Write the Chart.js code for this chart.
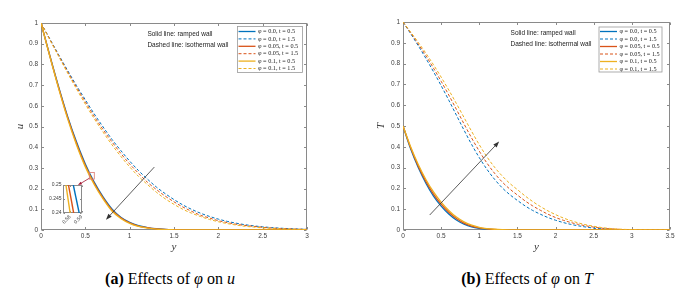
<!DOCTYPE html>
<html>
<head>
<meta charset="utf-8">
<script src="https://cdn.jsdelivr.net/npm/chart.js@4.4.0/dist/chart.umd.min.js"></script>
<style>
  html, body { margin: 0; padding: 0; background: #fff; }
  body { width: 696px; height: 295px; position: relative; overflow: hidden; }
  canvas { position: absolute; }
  .caption { position: absolute; top: 270px; font-family: 'Liberation Serif', 'Times New Roman', serif; font-size: 16px; color: #000; white-space: nowrap; transform: translateX(-50%); }
</style>
</head>
<body>
<canvas id="chartU" width="348" height="260" style="left:0;top:0"></canvas>
<canvas id="chartT" width="346" height="260" style="left:350px;top:0"></canvas>
<canvas id="inset" width="47" height="50" style="left:40px;top:178px"></canvas>
<div class="caption" style="left:170px"><b>(a)</b> Effects of <i>φ</i> on <i>u</i></div>
<div class="caption" style="left:527px"><b>(b)</b> Effects of <i>φ</i> on <i>T</i></div>
<script>
// distance y (x axis of both panels)
const yLeft = [0, 0.1, 0.2, 0.3, 0.4, 0.5, 0.6, 0.7, 0.8, 0.9, 1, 1.1, 1.2, 1.3, 1.4, 1.5, 1.6, 1.7, 1.8, 1.9, 2, 2.1, 2.2, 2.3, 2.4, 2.5, 2.6, 2.7, 2.8, 2.9, 3];
const yRight = [0, 0.1, 0.2, 0.3, 0.4, 0.5, 0.6, 0.7, 0.8, 0.9, 1, 1.1, 1.2, 1.3, 1.4, 1.5, 1.6, 1.7, 1.8, 1.9, 2, 2.1, 2.2, 2.3, 2.4, 2.5, 2.6, 2.7, 2.8, 2.9, 3, 3.1, 3.2, 3.3, 3.4, 3.5];

const legendLabels = ['φ = 0.0, t = 0.5', 'φ = 0.0, t = 1.5', 'φ = 0.05, t = 0.5', 'φ = 0.05, t = 1.5', 'φ = 0.1, t = 0.5', 'φ = 0.1, t = 1.5'];

// (a) velocity u
const uPhi0t05 = [1, 0.842, 0.690, 0.549, 0.426, 0.319, 0.231, 0.160, 0.102, 0.062, 0.037, 0.021, 0.012, 0.006, 0.003, 0.0015, 0.0007, 0.0003, 0, 0, 0, 0, 0, 0, 0, 0, 0, 0, 0, 0, 0];
const uPhi0t15 = [1, 0.923, 0.846, 0.771, 0.698, 0.629, 0.561, 0.498, 0.438, 0.384, 0.333, 0.287, 0.246, 0.208, 0.176, 0.147, 0.121, 0.0995, 0.081, 0.0656, 0.0526, 0.0418, 0.033, 0.0257, 0.020, 0.0154, 0.0117, 0.0088, 0.0066, 0.0049, 0.0036];
const uPhi005t05 = [1, 0.840, 0.686, 0.544, 0.419, 0.312, 0.226, 0.155, 0.097, 0.059, 0.035, 0.019, 0.011, 0.0055, 0.0027, 0.0013, 0.0006, 0.0002, 0, 0, 0, 0, 0, 0, 0, 0, 0, 0, 0, 0, 0];
const uPhi005t15 = [1, 0.921, 0.842, 0.765, 0.690, 0.619, 0.549, 0.485, 0.426, 0.370, 0.319, 0.274, 0.231, 0.196, 0.164, 0.136, 0.111, 0.090, 0.071, 0.058, 0.045, 0.036, 0.028, 0.022, 0.0175, 0.013, 0.0095, 0.0072, 0.0055, 0.004, 0.003];
const uPhi01t05 = [1, 0.838, 0.682, 0.538, 0.412, 0.305, 0.220, 0.150, 0.092, 0.056, 0.032, 0.017, 0.009, 0.0045, 0.002, 0.001, 0.0005, 0.0002, 0, 0, 0, 0, 0, 0, 0, 0, 0, 0, 0, 0, 0];
const uPhi01t15 = [1, 0.918, 0.838, 0.758, 0.682, 0.608, 0.538, 0.473, 0.412, 0.356, 0.305, 0.259, 0.220, 0.183, 0.151, 0.124, 0.100, 0.081, 0.065, 0.051, 0.040, 0.031, 0.024, 0.018, 0.014, 0.010, 0.0077, 0.0058, 0.0043, 0.003, 0.002];

// (b) temperature T
const tPhi0t05 = [0.5, 0.39, 0.30, 0.225, 0.163, 0.115, 0.077, 0.048, 0.028, 0.015, 0.008, 0.004, 0.002, 0.001, 0, 0, 0, 0, 0, 0, 0, 0, 0, 0, 0, 0, 0, 0, 0, 0, 0, 0, 0, 0, 0, 0];
const tPhi0t15 = [1, 0.944, 0.886, 0.825, 0.761, 0.694, 0.624, 0.552, 0.480, 0.411, 0.348, 0.292, 0.244, 0.203, 0.170, 0.142, 0.116, 0.094, 0.076, 0.060, 0.047, 0.036, 0.027, 0.020, 0.014, 0.009, 0.006, 0.004, 0.002, 0.001, 0.0005, 0, 0, 0, 0, 0];
const tPhi005t05 = [0.5, 0.395, 0.307, 0.234, 0.173, 0.124, 0.085, 0.055, 0.033, 0.019, 0.010, 0.005, 0.0025, 0.001, 0, 0, 0, 0, 0, 0, 0, 0, 0, 0, 0, 0, 0, 0, 0, 0, 0, 0, 0, 0, 0, 0];
const tPhi005t15 = [1, 0.948, 0.894, 0.838, 0.778, 0.715, 0.649, 0.580, 0.510, 0.442, 0.379, 0.322, 0.273, 0.231, 0.197, 0.168, 0.140, 0.116, 0.095, 0.076, 0.060, 0.047, 0.036, 0.027, 0.020, 0.014, 0.009, 0.006, 0.004, 0.002, 0.001, 0.0005, 0, 0, 0, 0];
const tPhi01t05 = [0.5, 0.40, 0.315, 0.243, 0.183, 0.134, 0.094, 0.062, 0.039, 0.023, 0.013, 0.007, 0.0035, 0.0015, 0.0005, 0, 0, 0, 0, 0, 0, 0, 0, 0, 0, 0, 0, 0, 0, 0, 0, 0, 0, 0, 0, 0];
const tPhi01t15 = [1, 0.952, 0.902, 0.850, 0.794, 0.735, 0.673, 0.608, 0.541, 0.474, 0.410, 0.352, 0.302, 0.260, 0.224, 0.194, 0.164, 0.137, 0.113, 0.092, 0.074, 0.058, 0.045, 0.034, 0.025, 0.018, 0.012, 0.008, 0.005, 0.003, 0.002, 0.001, 0.0005, 0, 0, 0];

// zoomed window near u = 0.245 (solid lines), ends of each segment
const insetRange = [0.24, 0.25];
const insetPhi0 = [0.5828, 0.5878];
const insetPhi005 = [0.5787, 0.5831];
const insetPhi01 = [0.5765, 0.5801];
const insetXTicks = [0.58, 0.59];

const BLUE = '#0072BD', RED = '#D95319', YELLOW = '#EDB120';
const tickFont = { family: '"Liberation Sans", Arial, sans-serif', size: 6.5 };
const titleFont = { family: '"Liberation Serif", "Times New Roman", serif', size: 11, style: 'italic' };
const fmt = v => String(Number(Number(v).toFixed(3)));

function series(xs, vals, label, color, dashed, order) {
    return {
        label,
        data: xs.map((x, i) => ({ x, y: vals[i] })),
        borderColor: color,
        borderWidth: dashed ? 1 : 1.3,
        borderDash: dashed ? [3, 2] : [],
        pointRadius: 0,
        fill: false,
        cubicInterpolationMode: 'monotone',
        order
    };
}

function arrow(ctx, x0, y0, x1, y1, color, head) {
    const ang = Math.atan2(y1 - y0, x1 - x0);
    ctx.strokeStyle = color;
    ctx.fillStyle = color;
    ctx.lineWidth = 0.8;
    ctx.setLineDash([]);
    ctx.beginPath();
    ctx.moveTo(x0, y0);
    ctx.lineTo(x1 - Math.cos(ang) * head * 0.8, y1 - Math.sin(ang) * head * 0.8);
    ctx.stroke();
    ctx.beginPath();
    ctx.moveTo(x1, y1);
    ctx.lineTo(x1 - head * Math.cos(ang) + head * 0.38 * Math.sin(ang), y1 - head * Math.sin(ang) - head * 0.38 * Math.cos(ang));
    ctx.lineTo(x1 - head * Math.cos(ang) - head * 0.38 * Math.sin(ang), y1 - head * Math.sin(ang) + head * 0.38 * Math.cos(ang));
    ctx.closePath();
    ctx.fill();
}

// MATLAB-like box with inward ticks on all four sides
function frame(tickLen) {
    return {
        id: 'frame',
        beforeDatasetsDraw(chart) {
            const { ctx, chartArea: a, scales } = chart;
            const l = Math.round(a.left) + 0.5, r = Math.round(a.right) - 0.5;
            const t = Math.round(a.top) + 0.5, b = Math.round(a.bottom) - 0.5;
            ctx.save();
            ctx.strokeStyle = '#8a8a8a';
            ctx.lineWidth = 1;
            ctx.strokeRect(l, t, r - l, b - t);
            ctx.beginPath();
            scales.x.ticks.forEach(tk => {
                const p = Math.round(scales.x.getPixelForValue(tk.value)) + 0.5;
                ctx.moveTo(p, b); ctx.lineTo(p, b - tickLen);
                ctx.moveTo(p, t); ctx.lineTo(p, t + tickLen);
            });
            scales.y.ticks.forEach(tk => {
                const p = Math.round(scales.y.getPixelForValue(tk.value)) + 0.5;
                ctx.moveTo(l, p); ctx.lineTo(l + tickLen, p);
                ctx.moveTo(r, p); ctx.lineTo(r - tickLen, p);
            });
            ctx.stroke();
            ctx.restore();
        }
    };
}

function drawLegend(chart, lg) {
    const { ctx, chartArea: a } = chart;
    const sets = chart.data.datasets;
    const left = a.right - lg.right - lg.width, top = a.top + lg.top;
    ctx.fillStyle = '#fff';
    ctx.fillRect(left, top, lg.width, lg.height);
    ctx.strokeStyle = '#9a9a9a';
    ctx.lineWidth = 0.8;
    ctx.setLineDash([]);
    ctx.strokeRect(left + 0.5, top + 0.5, lg.width, lg.height);
    ctx.font = '6.2px "Liberation Serif", "Times New Roman", serif';
    ctx.textBaseline = 'middle';
    ctx.textAlign = 'left';
    sets.forEach((ds, i) => {
        const yy = top + lg.first + i * lg.row;
        ctx.strokeStyle = ds.borderColor;
        ctx.lineWidth = ds.borderWidth;
        ctx.setLineDash(ds.borderDash);
        ctx.beginPath();
        ctx.moveTo(left + 1.5, yy);
        ctx.lineTo(left + 18.5, yy);
        ctx.stroke();
        ctx.setLineDash([]);
        ctx.fillStyle = '#222';
        ctx.fillText(ds.label, left + 21, yy);
    });
}

function decor(cfg) {
    return {
        id: 'decor',
        afterDatasetsDraw(chart) {
            const { ctx, scales: { x, y } } = chart;
            const px = v => x.getPixelForValue(v), py = v => y.getPixelForValue(v);
            ctx.save();
            (cfg.rects || []).forEach(r => {
                ctx.strokeStyle = r.color;
                ctx.lineWidth = 0.8;
                ctx.strokeRect(px(r.x0), py(r.y1), px(r.x1) - px(r.x0), py(r.y0) - py(r.y1));
            });
            (cfg.arrows || []).forEach(ar => arrow(ctx, px(ar.from[0]), py(ar.from[1]), px(ar.to[0]), py(ar.to[1]), ar.color, ar.head));
            ctx.font = '6.5px "Liberation Sans", Arial, sans-serif';
            ctx.fillStyle = '#1a1a1a';
            ctx.textBaseline = 'middle';
            ctx.textAlign = 'left';
            (cfg.notes || []).forEach(n => ctx.fillText(n.text, px(n.at[0]), py(n.at[1])));
            if (cfg.legend) drawLegend(chart, cfg.legend);
            ctx.restore();
        }
    };
}

const noGrid = { display: false, drawTicks: false, tickLength: 0 };

function makeChart(id, c) {
    return new Chart(document.getElementById(id), {
        type: 'line',
        data: { datasets: c.datasets },
        options: {
            responsive: false,
            animation: false,
            devicePixelRatio: 1,
            layout: { padding: { top: c.top, right: c.right, left: 0, bottom: 0 } },
            plugins: { legend: { display: false }, tooltip: { enabled: false } },
            scales: {
                x: {
                    type: 'linear', min: 0, max: c.xMax,
                    ticks: { stepSize: 0.5, padding: 2, color: '#404040', font: tickFont, maxRotation: 0, autoSkip: false, callback: fmt },
                    grid: noGrid, border: { display: false },
                    title: { display: true, text: 'y', font: titleFont, color: '#333', padding: { top: 0, bottom: 6.5 } },
                    afterFit: s => { s.height = c.xAxisH; }
                },
                y: {
                    min: 0, max: 1,
                    ticks: { stepSize: 0.1, padding: 3, color: '#404040', font: tickFont, callback: fmt },
                    grid: noGrid, border: { display: false },
                    title: { display: true, text: c.yTitle, font: titleFont, color: '#333', padding: { top: c.yTitlePad, bottom: 0 } },
                    afterFit: s => { s.width = c.yAxisW; }
                }
            }
        },
        plugins: [frame(2.5), decor(c.decor)]
    });
}

makeChart('chartU', {
    datasets: [
        series(yLeft, uPhi0t05, legendLabels[0], BLUE, false, 6),
        series(yLeft, uPhi0t15, legendLabels[1], BLUE, true, 5),
        series(yLeft, uPhi005t05, legendLabels[2], RED, false, 4),
        series(yLeft, uPhi005t15, legendLabels[3], RED, true, 3),
        series(yLeft, uPhi01t05, legendLabels[4], YELLOW, false, 2),
        series(yLeft, uPhi01t15, legendLabels[5], YELLOW, true, 1)
    ],
    xMax: 3, top: 23, right: 41, xAxisH: 30, yAxisW: 41, yTitle: 'u', yTitlePad: 14,
    decor: {
        rects: [{ x0: 0.545, x1: 0.601, y0: 0.246, y1: 0.278, color: '#d9776f' }],
        arrows: [
            { from: [1.278, 0.304], to: [0.733, 0.05], color: '#333', head: 6 },
            { from: [0.545, 0.25], to: [0.417, 0.217], color: '#a2142f', head: 4 }
        ],
        notes: [
            { text: 'Solid line: ramped wall', at: [1.2, 0.947] },
            { text: 'Dashed line: isothermal wall', at: [1.2, 0.894] }
        ],
        legend: { right: 5, top: 3, width: 65, height: 46, first: 5.5, row: 7.4 }
    }
});

makeChart('chartT', {
    datasets: [
        series(yRight, tPhi0t05, legendLabels[0], BLUE, false, 6),
        series(yRight, tPhi0t15, legendLabels[1], BLUE, true, 5),
        series(yRight, tPhi005t05, legendLabels[2], RED, false, 4),
        series(yRight, tPhi005t15, legendLabels[3], RED, true, 3),
        series(yRight, tPhi01t05, legendLabels[4], YELLOW, false, 2),
        series(yRight, tPhi01t15, legendLabels[5], YELLOW, true, 1)
    ],
    xMax: 3.5, top: 22, right: 26, xAxisH: 30, yAxisW: 53, yTitle: 'T', yTitlePad: 25,
    decor: {
        arrows: [{ from: [0.35, 0.072], to: [1.26, 0.425], color: '#333', head: 6 }],
        notes: [
            { text: 'Solid line: ramped wall', at: [1.41, 0.944] },
            { text: 'Dashed line: isothermal wall', at: [1.41, 0.891] }
        ],
        legend: { right: 8.5, top: 4.5, width: 63, height: 45, first: 5, row: 7.5 }
    }
});

// inset: zoom of the solid u curves
const insetSet = (xs, color, order) => ({
    data: [{ x: xs[0], y: insetRange[1] }, { x: xs[1], y: insetRange[0] }],
    borderColor: color, borderWidth: 1.4, pointRadius: 0, fill: false, order
});

new Chart(document.getElementById('inset'), {
    type: 'line',
    data: { datasets: [insetSet(insetPhi0, BLUE, 3), insetSet(insetPhi005, RED, 2), insetSet(insetPhi01, YELLOW, 1)] },
    options: {
        responsive: false,
        animation: false,
        devicePixelRatio: 1,
        layout: { padding: { top: 7, right: 4, left: 0, bottom: 0 } },
        plugins: { legend: { display: false }, tooltip: { enabled: false } },
        scales: {
            x: {
                type: 'linear', min: 0.574, max: 0.59,
                afterBuildTicks: s => { s.ticks = insetXTicks.map(v => ({ value: v })); },
                ticks: { minRotation: 45, maxRotation: 45, padding: 1, color: '#404040', font: { family: tickFont.family, size: 5 }, callback: fmt },
                grid: noGrid, border: { display: false },
                afterFit: s => { s.height = 15; }
            },
            y: {
                min: insetRange[0], max: insetRange[1],
                ticks: { stepSize: 0.005, padding: 1.5, color: '#404040', font: { family: tickFont.family, size: 5 }, callback: fmt },
                grid: noGrid, border: { display: false },
                afterFit: s => { s.width = 23; }
            }
        }
    },
    plugins: [frame(1.5)]
});
</script>
</body>
</html>
